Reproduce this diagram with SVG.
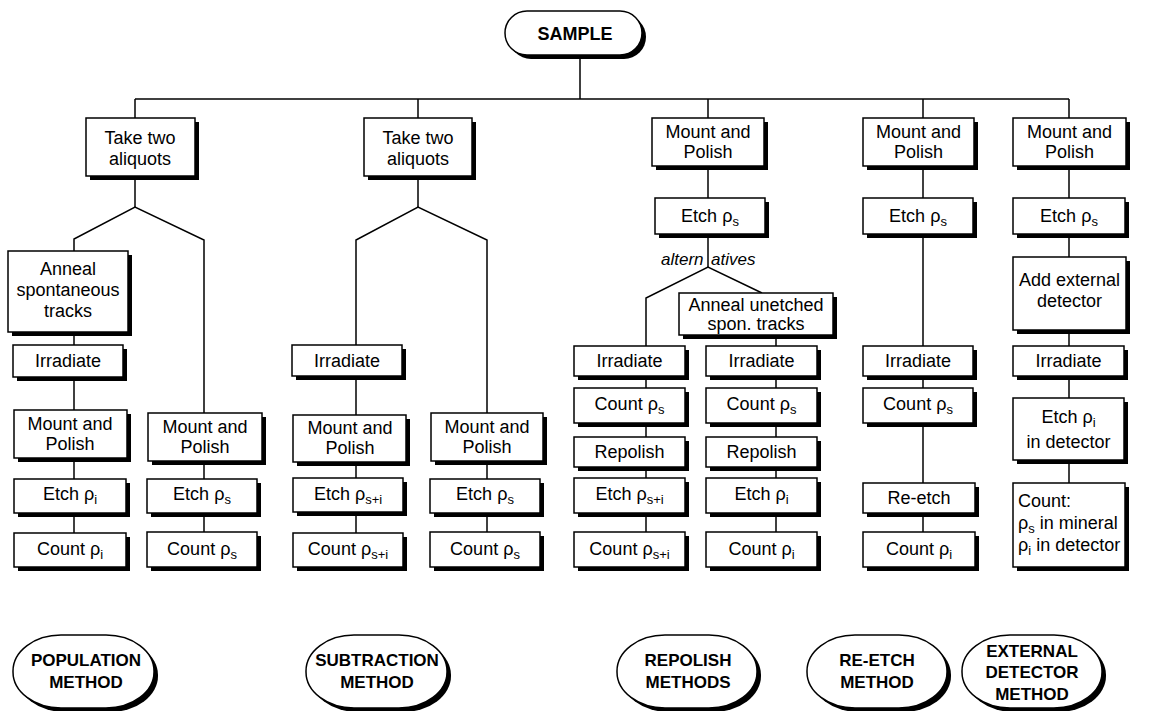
<svg xmlns="http://www.w3.org/2000/svg" width="1159" height="711" viewBox="0 0 1159 711">
<style>
.b{fill:#fff;stroke:#000;stroke-width:1.5}
.sh{fill:#000}
.t{font-family:"Liberation Sans",Arial,sans-serif;font-size:18px;text-anchor:middle;fill:#000}
.l{text-anchor:start}
.bt{font-weight:bold;font-size:17px}
.it{font-style:italic;font-size:17px}
.sub{font-size:13px}
#connectors line,#connectors polyline{stroke:#000;stroke-width:1.5;fill:none}
</style>
<rect width="1159" height="711" fill="#fff"/>
<g id="connectors">
<line x1="580" y1="55" x2="580" y2="99"/>
<line x1="135" y1="99" x2="1069" y2="99"/>
<line x1="135" y1="99" x2="135" y2="118"/>
<line x1="418" y1="99" x2="418" y2="118"/>
<line x1="708" y1="99" x2="708" y2="118"/>
<line x1="923" y1="99" x2="923" y2="118"/>
<line x1="1069" y1="99" x2="1069" y2="118"/>
<line x1="135" y1="176" x2="135" y2="207"/>
<polyline points="74,251 74,239 135,207 204,240 204,413"/>
<line x1="74" y1="332" x2="74" y2="345"/>
<line x1="74" y1="377" x2="74" y2="410"/>
<line x1="74" y1="458" x2="74" y2="479"/>
<line x1="74" y1="513" x2="74" y2="533"/>
<line x1="204" y1="461" x2="204" y2="479"/>
<line x1="204" y1="513" x2="204" y2="532"/>
<line x1="418" y1="176" x2="418" y2="207"/>
<polyline points="356,345 356,240 418,207 487,240 487,413"/>
<line x1="356" y1="376" x2="356" y2="415"/>
<line x1="356" y1="462" x2="356" y2="478"/>
<line x1="356" y1="512" x2="356" y2="533"/>
<line x1="487" y1="461" x2="487" y2="479"/>
<line x1="487" y1="513" x2="487" y2="532"/>
<line x1="708" y1="166" x2="708" y2="198"/>
<line x1="708" y1="234" x2="708" y2="267"/>
<polyline points="646,346 646,298 708,267 762,293"/>
<line x1="646" y1="376" x2="646" y2="388"/>
<line x1="646" y1="423" x2="646" y2="437"/>
<line x1="646" y1="467" x2="646" y2="478"/>
<line x1="646" y1="513" x2="646" y2="532"/>
<line x1="776" y1="335" x2="776" y2="346"/>
<line x1="776" y1="376" x2="776" y2="388"/>
<line x1="776" y1="423" x2="776" y2="437"/>
<line x1="776" y1="467" x2="776" y2="478"/>
<line x1="776" y1="513" x2="776" y2="532"/>
<line x1="923" y1="166" x2="923" y2="198"/>
<line x1="923" y1="234" x2="923" y2="346"/>
<line x1="923" y1="376" x2="923" y2="388"/>
<line x1="923" y1="423" x2="923" y2="483"/>
<line x1="923" y1="513" x2="923" y2="532"/>
<line x1="1069" y1="166" x2="1069" y2="198"/>
<line x1="1069" y1="234" x2="1069" y2="257"/>
<line x1="1069" y1="330" x2="1069" y2="346"/>
<line x1="1069" y1="376" x2="1069" y2="398"/>
<line x1="1069" y1="460" x2="1069" y2="483"/>
</g>
<g id="sample"><rect class="sh" x="509" y="15" width="137" height="44" rx="22"/><rect class="b" x="505" y="11" width="137" height="44" rx="22"/><text class="t bt" style="font-size:18px" x="575" y="39.5">SAMPLE</text></g>

<g id="c1-take"><rect class="sh" x="90" y="122" width="109" height="58"/><rect class="b" x="86" y="118" width="109" height="58"/><text class="t" x="140" y="143.5">Take two</text><text class="t" x="140" y="164.5">aliquots</text></g>
<g id="c1-anneal"><rect class="sh" x="12" y="255" width="120" height="81"/><rect class="b" x="8" y="251" width="120" height="81"/><text class="t" x="68" y="275">Anneal</text><text class="t" x="68" y="296">spontaneous</text><text class="t" x="68" y="317">tracks</text></g>
<g id="c1-irr"><rect class="sh" x="17" y="349" width="110" height="32"/><rect class="b" x="13" y="345" width="110" height="32"/><text class="t" x="68" y="367">Irradiate</text></g>
<g id="c1-mp1"><rect class="sh" x="18" y="414" width="113" height="48"/><rect class="b" x="14" y="410" width="113" height="48"/><text class="t" x="70" y="429.5">Mount and</text><text class="t" x="70" y="450">Polish</text></g>
<g id="c1-etch1"><rect class="sh" x="18" y="483" width="112" height="34"/><rect class="b" x="14" y="479" width="112" height="34"/><text class="t" x="70" y="500">Etch ρ<tspan class="sub" dy="4">i</tspan></text></g>
<g id="c1-count1"><rect class="sh" x="18" y="537" width="112" height="34"/><rect class="b" x="14" y="533" width="112" height="34"/><text class="t" x="70" y="555">Count ρ<tspan class="sub" dy="4">i</tspan></text></g>
<g id="c1-mp2"><rect class="sh" x="152" y="417" width="114" height="48"/><rect class="b" x="148" y="413" width="114" height="48"/><text class="t" x="205" y="432.5">Mount and</text><text class="t" x="205" y="453">Polish</text></g>
<g id="c1-etch2"><rect class="sh" x="151" y="483" width="110" height="34"/><rect class="b" x="147" y="479" width="110" height="34"/><text class="t" x="202" y="500">Etch ρ<tspan class="sub" dy="4">s</tspan></text></g>
<g id="c1-count2"><rect class="sh" x="151" y="536" width="110" height="35"/><rect class="b" x="147" y="532" width="110" height="35"/><text class="t" x="202" y="554.5">Count ρ<tspan class="sub" dy="4">s</tspan></text></g>

<g id="c2-take"><rect class="sh" x="368" y="122" width="108" height="58"/><rect class="b" x="364" y="118" width="108" height="58"/><text class="t" x="418" y="143.5">Take two</text><text class="t" x="418" y="164.5">aliquots</text></g>
<g id="c2-irr"><rect class="sh" x="296" y="349" width="110" height="31"/><rect class="b" x="292" y="345" width="110" height="31"/><text class="t" x="347" y="366.5">Irradiate</text></g>
<g id="c2-mp1"><rect class="sh" x="297" y="419" width="113" height="47"/><rect class="b" x="293" y="415" width="113" height="47"/><text class="t" x="350" y="433.5">Mount and</text><text class="t" x="350" y="454">Polish</text></g>
<g id="c2-etch1"><rect class="sh" x="297" y="482" width="110" height="34"/><rect class="b" x="293" y="478" width="110" height="34"/><text class="t" x="348" y="499.5">Etch ρ<tspan class="sub" dy="4">s+i</tspan></text></g>
<g id="c2-count1"><rect class="sh" x="297" y="537" width="110" height="34"/><rect class="b" x="293" y="533" width="110" height="34"/><text class="t" x="348" y="555">Count ρ<tspan class="sub" dy="4">s+i</tspan></text></g>
<g id="c2-mp2"><rect class="sh" x="435" y="417" width="112" height="48"/><rect class="b" x="431" y="413" width="112" height="48"/><text class="t" x="487" y="432.5">Mount and</text><text class="t" x="487" y="453">Polish</text></g>
<g id="c2-etch2"><rect class="sh" x="434" y="483" width="110" height="34"/><rect class="b" x="430" y="479" width="110" height="34"/><text class="t" x="485" y="500">Etch ρ<tspan class="sub" dy="4">s</tspan></text></g>
<g id="c2-count2"><rect class="sh" x="434" y="536" width="110" height="35"/><rect class="b" x="430" y="532" width="110" height="35"/><text class="t" x="485" y="554.5">Count ρ<tspan class="sub" dy="4">s</tspan></text></g>

<g id="c3-mp"><rect class="sh" x="656" y="122" width="112" height="48"/><rect class="b" x="652" y="118" width="112" height="48"/><text class="t" x="708" y="137.5">Mount and</text><text class="t" x="708" y="158">Polish</text></g>
<g id="c3-etch"><rect class="sh" x="659" y="202" width="110" height="36"/><rect class="b" x="655" y="198" width="110" height="36"/><text class="t" x="710" y="221.5">Etch ρ<tspan class="sub" dy="4">s</tspan></text></g>
<g id="c3-alt"><text class="t it" x="661" y="265" style="text-anchor:start">altern<tspan x="711">atives</tspan></text></g>
<g id="c3-anneal"><rect class="sh" x="683" y="297" width="154" height="42"/><rect class="b" x="679" y="293" width="154" height="42"/><text class="t" x="756" y="310.5">Anneal unetched</text><text class="t" x="756" y="330">spon. tracks</text></g>
<g id="c3-irr1"><rect class="sh" x="578" y="350" width="111" height="30"/><rect class="b" x="574" y="346" width="111" height="30"/><text class="t" x="629.5" y="367">Irradiate</text></g>
<g id="c3-cnt1"><rect class="sh" x="578" y="392" width="111" height="35"/><rect class="b" x="574" y="388" width="111" height="35"/><text class="t" x="629.5" y="409.5">Count ρ<tspan class="sub" dy="4">s</tspan></text></g>
<g id="c3-rep1"><rect class="sh" x="578" y="441" width="111" height="30"/><rect class="b" x="574" y="437" width="111" height="30"/><text class="t" x="629.5" y="458">Repolish</text></g>
<g id="c3-etch1"><rect class="sh" x="578" y="482" width="111" height="35"/><rect class="b" x="574" y="478" width="111" height="35"/><text class="t" x="629.5" y="499.5">Etch ρ<tspan class="sub" dy="4">s+i</tspan></text></g>
<g id="c3-count1"><rect class="sh" x="578" y="536" width="111" height="35"/><rect class="b" x="574" y="532" width="111" height="35"/><text class="t" x="629.5" y="554.5">Count ρ<tspan class="sub" dy="4">s+i</tspan></text></g>
<g id="c3-irr2"><rect class="sh" x="710" y="350" width="111" height="30"/><rect class="b" x="706" y="346" width="111" height="30"/><text class="t" x="761.5" y="367">Irradiate</text></g>
<g id="c3-cnt2"><rect class="sh" x="710" y="392" width="111" height="35"/><rect class="b" x="706" y="388" width="111" height="35"/><text class="t" x="761.5" y="409.5">Count ρ<tspan class="sub" dy="4">s</tspan></text></g>
<g id="c3-rep2"><rect class="sh" x="710" y="441" width="111" height="30"/><rect class="b" x="706" y="437" width="111" height="30"/><text class="t" x="761.5" y="458">Repolish</text></g>
<g id="c3-etch2"><rect class="sh" x="710" y="482" width="111" height="35"/><rect class="b" x="706" y="478" width="111" height="35"/><text class="t" x="761.5" y="499.5">Etch ρ<tspan class="sub" dy="4">i</tspan></text></g>
<g id="c3-count2"><rect class="sh" x="710" y="536" width="111" height="35"/><rect class="b" x="706" y="532" width="111" height="35"/><text class="t" x="761.5" y="554.5">Count ρ<tspan class="sub" dy="4">i</tspan></text></g>

<g id="c4-mp"><rect class="sh" x="867" y="122" width="111" height="48"/><rect class="b" x="863" y="118" width="111" height="48"/><text class="t" x="918.5" y="137.5">Mount and</text><text class="t" x="918.5" y="158">Polish</text></g>
<g id="c4-etch"><rect class="sh" x="867" y="202" width="110" height="36"/><rect class="b" x="863" y="198" width="110" height="36"/><text class="t" x="918" y="221.5">Etch ρ<tspan class="sub" dy="4">s</tspan></text></g>
<g id="c4-irr"><rect class="sh" x="867" y="350" width="110" height="30"/><rect class="b" x="863" y="346" width="110" height="30"/><text class="t" x="918" y="367">Irradiate</text></g>
<g id="c4-cnt"><rect class="sh" x="867" y="392" width="110" height="35"/><rect class="b" x="863" y="388" width="110" height="35"/><text class="t" x="918" y="409.5">Count ρ<tspan class="sub" dy="4">s</tspan></text></g>
<g id="c4-reetch"><rect class="sh" x="867" y="487" width="112" height="30"/><rect class="b" x="863" y="483" width="112" height="30"/><text class="t" x="919" y="504">Re-etch</text></g>
<g id="c4-count"><rect class="sh" x="867" y="536" width="112" height="35"/><rect class="b" x="863" y="532" width="112" height="35"/><text class="t" x="919" y="554.5">Count ρ<tspan class="sub" dy="4">i</tspan></text></g>

<g id="c5-mp"><rect class="sh" x="1017" y="122" width="113" height="48"/><rect class="b" x="1013" y="118" width="113" height="48"/><text class="t" x="1069.5" y="137.5">Mount and</text><text class="t" x="1069.5" y="158">Polish</text></g>
<g id="c5-etch"><rect class="sh" x="1017" y="202" width="112" height="36"/><rect class="b" x="1013" y="198" width="112" height="36"/><text class="t" x="1069" y="221.5">Etch ρ<tspan class="sub" dy="4">s</tspan></text></g>
<g id="c5-add"><rect class="sh" x="1017" y="261" width="113" height="73"/><rect class="b" x="1013" y="257" width="113" height="73"/><text class="t" x="1069.5" y="285.5">Add external</text><text class="t" x="1069.5" y="306.5">detector</text></g>
<g id="c5-irr"><rect class="sh" x="1017" y="350" width="111" height="30"/><rect class="b" x="1013" y="346" width="111" height="30"/><text class="t" x="1068.5" y="367">Irradiate</text></g>
<g id="c5-etchi"><rect class="sh" x="1017" y="402" width="111" height="62"/><rect class="b" x="1013" y="398" width="111" height="62"/><text class="t" x="1068.5" y="422.5">Etch ρ<tspan class="sub" dy="4">i</tspan></text><text class="t" x="1068.5" y="447.5">in detector</text></g>
<g id="c5-count"><rect class="sh" x="1017" y="487" width="112" height="84"/><rect class="b" x="1013" y="483" width="112" height="84"/><text class="t l" x="1018" y="507">Count:</text><text class="t l" x="1018" y="529">ρ<tspan class="sub" dy="4">s</tspan><tspan dy="-4"> in mineral</tspan></text><text class="t l" x="1018" y="551">ρ<tspan class="sub" dy="4">i</tspan><tspan dy="-4"> in detector</tspan></text></g>

<g id="m-population"><rect class="sh" x="17" y="639" width="141" height="73" rx="48" ry="36"/><rect class="b" x="13" y="635" width="141" height="73" rx="48" ry="36"/><text class="t bt" x="86" y="666">POPULATION</text><text class="t bt" x="86" y="688">METHOD</text></g>
<g id="m-subtraction"><rect class="sh" x="310" y="639" width="141" height="73" rx="48" ry="36"/><rect class="b" x="306" y="635" width="141" height="73" rx="48" ry="36"/><text class="t bt" x="377" y="666">SUBTRACTION</text><text class="t bt" x="377" y="688">METHOD</text></g>
<g id="m-repolish"><rect class="sh" x="621" y="639" width="140" height="73" rx="48" ry="36"/><rect class="b" x="617" y="635" width="140" height="73" rx="48" ry="36"/><text class="t bt" x="688" y="666">REPOLISH</text><text class="t bt" x="688" y="688">METHODS</text></g>
<g id="m-reetch"><rect class="sh" x="811" y="639" width="140" height="73" rx="48" ry="36"/><rect class="b" x="807" y="635" width="140" height="73" rx="48" ry="36"/><text class="t bt" x="877" y="666">RE-ETCH</text><text class="t bt" x="877" y="688">METHOD</text></g>
<g id="m-external"><rect class="sh" x="966" y="639" width="140" height="73" rx="48" ry="36"/><rect class="b" x="962" y="635" width="140" height="73" rx="48" ry="36"/><text class="t bt" x="1032" y="657">EXTERNAL</text><text class="t bt" x="1032" y="678">DETECTOR</text><text class="t bt" x="1032" y="700">METHOD</text></g>
</svg>
